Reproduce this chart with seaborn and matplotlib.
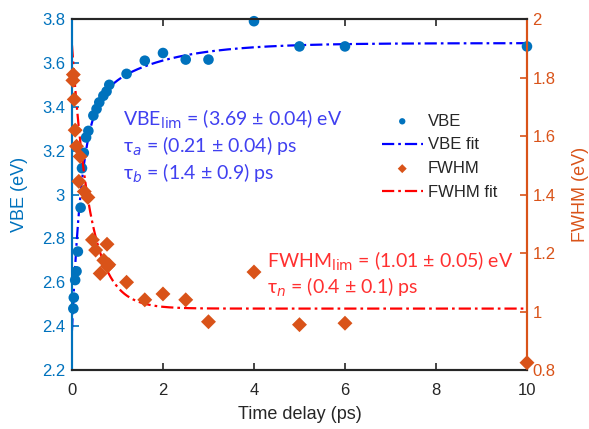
import numpy as np
import pandas as pd
import matplotlib
matplotlib.use("Agg")
import matplotlib.pyplot as plt
import seaborn as sns
from matplotlib.ticker import FuncFormatter

# date
vbe_t = [0.03, 0.04, 0.07, 0.10, 0.13, 0.19, 0.22, 0.26, 0.31, 0.36, 0.47, 0.54,
         0.60, 0.69, 0.76, 0.82, 1.2, 1.6, 2.0, 2.5, 3.0, 4.0, 5.0, 6.0, 10.0]
vbe_v = [2.48, 2.53, 2.61, 2.65, 2.74, 2.94, 3.12, 3.19, 3.26, 3.29, 3.36, 3.39,
         3.42, 3.45, 3.47, 3.50, 3.55, 3.61, 3.645, 3.615, 3.615, 3.79, 3.675, 3.675, 3.675]

fwhm_t = [0.03, 0.02, 0.05, 0.07, 0.10, 0.18, 0.15, 0.27, 0.35, 0.45, 0.52, 0.62,
          0.70, 0.77, 0.78, 0.81, 1.2, 1.6, 2.0, 2.5, 3.0, 4.0, 5.0, 6.0, 10.0]
fwhm_v = [1.81, 1.79, 1.725, 1.62, 1.565, 1.53, 1.445, 1.41, 1.39, 1.245, 1.21, 1.13,
          1.175, 1.23, 1.155, 1.16, 1.10, 1.04, 1.06, 1.04, 0.965, 1.135, 0.955, 0.96, 0.825]

# parametrii fitului (din adnotari)
vbe_lim, tau_a, tau_b = 3.69, 0.21, 1.4
amp_a, amp_b = 0.98, 0.33
fwhm_lim, tau_n, amp_n = 1.01, 0.4, 0.90

x_ticks = [0, 2, 4, 6, 8, 10]
left_ticks = [2.2, 2.4, 2.6, 2.8, 3.0, 3.2, 3.4, 3.6, 3.8]
right_ticks = [0.8, 1.0, 1.2, 1.4, 1.6, 1.8, 2.0]

c_vbe = "#0072BD"
c_fwhm = "#D95319"
dark = "#262626"

sns.set_style("ticks")
plt.rcParams["font.family"] = ["Liberation Sans", "DejaVu Sans"]
plt.rcParams["xtick.direction"] = "in"
plt.rcParams["ytick.direction"] = "in"

t_fit = np.linspace(0, 10, 600)
fit = pd.DataFrame({
    "t": t_fit,
    "vbe": vbe_lim - amp_a * np.exp(-t_fit / tau_a) - amp_b * np.exp(-t_fit / tau_b),
    "fwhm": fwhm_lim + amp_n * np.exp(-t_fit / tau_n),
})
vbe = pd.DataFrame({"t": vbe_t, "v": vbe_v})
fwhm = pd.DataFrame({"t": fwhm_t, "v": fwhm_v})

fig = plt.figure(figsize=(5.89, 4.29), dpi=100)
ax = fig.add_axes([0.1222, 0.1375, 0.7725, 0.8182])
ax2 = ax.twinx()

dashdot = (0, (5.5, 1.8, 1.2, 1.8))

sns.scatterplot(data=vbe, x="t", y="v", ax=ax, color=c_vbe, s=58,
                edgecolor="none", label="VBE", clip_on=False, zorder=3)
sns.lineplot(data=fit, x="t", y="vbe", ax=ax, color="blue", lw=1.6,
             linestyle=dashdot, label="VBE fit", errorbar=None, sort=False, zorder=2)
sns.scatterplot(data=fwhm, x="t", y="v", ax=ax2, color=c_fwhm, s=58, marker="D",
                edgecolor="none", label="FWHM", clip_on=False, zorder=3)
sns.lineplot(data=fit, x="t", y="fwhm", ax=ax2, color="red", lw=1.6,
             linestyle=dashdot, label="FWHM fit", errorbar=None, sort=False, zorder=2)

ax.set_xlim(0, 10)
ax.set_ylim(2.2, 3.8)
ax2.set_ylim(0.8, 2.0)
ax.set_xticks(x_ticks)
ax.set_yticks(left_ticks)
ax2.set_yticks(right_ticks)
fmt = FuncFormatter(lambda v, p: "%g" % round(v, 2))
ax.yaxis.set_major_formatter(fmt)
ax2.yaxis.set_major_formatter(fmt)

ax.set_xlabel("Time delay (ps)", fontsize=13, color=dark, labelpad=6)
ax.set_ylabel("VBE (eV)", fontsize=13, color=c_vbe, labelpad=10)
ax2.set_ylabel("FWHM (eV)", fontsize=13, color=c_fwhm, labelpad=12)

for a in (ax, ax2):
    for s in a.spines.values():
        s.set_linewidth(1.5)
        s.set_color(dark)
    a.spines["left"].set_color(c_vbe)
    a.spines["right"].set_color(c_fwhm)
ax.tick_params(axis="x", colors=dark, labelsize=12, top=True, length=5, width=1.2, pad=9)
ax.tick_params(axis="y", colors=c_vbe, labelsize=12, length=5, width=1.2, pad=5)
ax2.tick_params(axis="y", colors=c_fwhm, labelsize=12, length=5, width=1.2, pad=4)

ann_font = ["Lato", "DejaVu Sans"]
c_ann_b = "#4040F0"
c_ann_r = "#FF3030"
ax.text(1.12, 3.312, r"VBE$_{\mathrm{lim}}$ = (3.69 ± 0.04) eV", color=c_ann_b,
        fontsize=14, family=ann_font, va="baseline")
ax.text(1.12, 3.189, r"τ$_{\mathit{a}}$ = (0.21 ± 0.04) ps", color=c_ann_b,
        fontsize=14, family=ann_font, va="baseline")
ax.text(1.12, 3.066, r"τ$_{\mathit{b}}$ = (1.4 ± 0.9) ps", color=c_ann_b,
        fontsize=14, family=ann_font, va="baseline")
ax2.text(4.28, 1.151, r"FWHM$_{\mathrm{lim}}$ = (1.01 ± 0.05) eV", color=c_ann_r,
         fontsize=14, family=ann_font, va="baseline")
ax2.text(4.28, 1.062, r"τ$_{\mathit{n}}$ = (0.4 ± 0.1) ps", color=c_ann_r,
         fontsize=14, family=ann_font, va="baseline")

h1, l1 = ax.get_legend_handles_labels()
h2, l2 = ax2.get_legend_handles_labels()
if ax.get_legend() is not None:
    ax.get_legend().remove()
ax2.legend(h1 + h2, l1 + l2, loc="upper left", bbox_to_anchor=(0.648, 0.773),
           frameon=False, fontsize=12, handlelength=2.45, handletextpad=0.3,
           labelspacing=0.52, markerscale=0.6)

fig.savefig("out.png", dpi=100)
